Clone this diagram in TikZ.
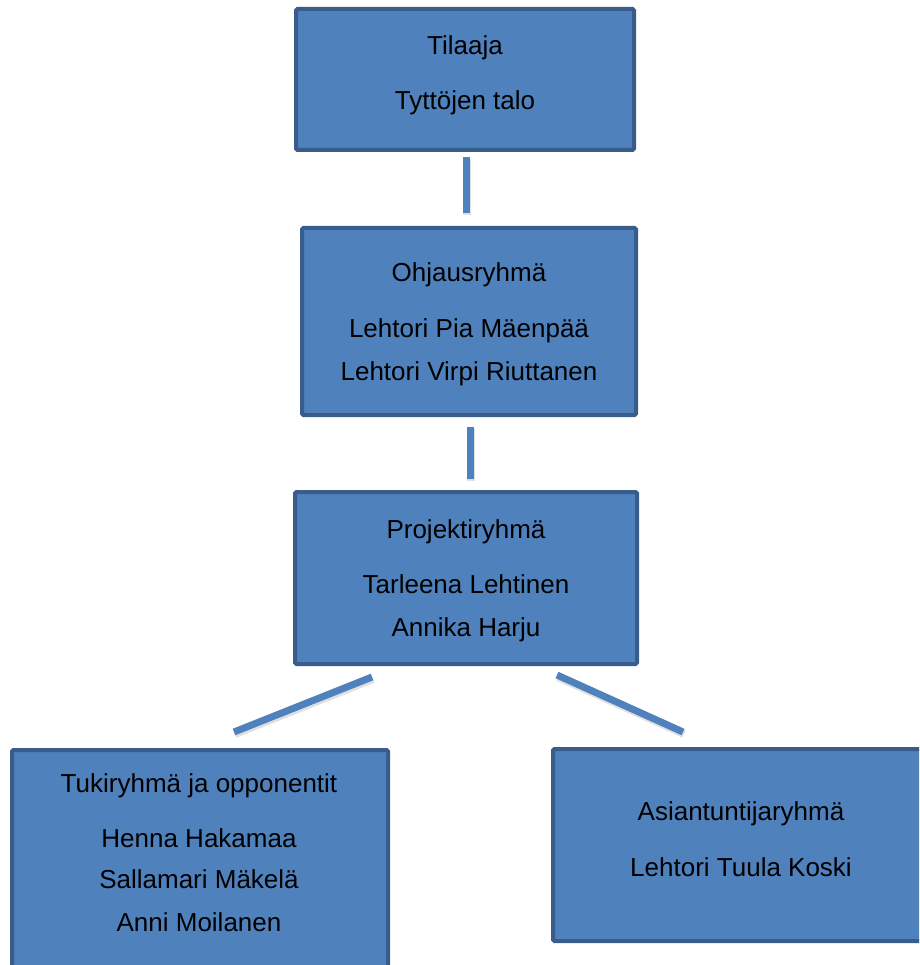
\documentclass[tikz,border=0pt]{standalone}
\usepackage{fontspec}
\setmainfont{Liberation Sans}
\definecolor{boxfill}{HTML}{4F81BD}
\definecolor{boxline}{HTML}{385D8A}
\definecolor{connc}{HTML}{4F81BD}
\begin{document}
\begin{tikzpicture}[x=1pt,y=-1pt,
  box/.style={draw=boxline, fill=boxfill, line width=4pt, rounded corners=1.5pt, inner sep=0pt, outer sep=0pt},
  txt/.style={anchor=base, inner sep=0pt, font=\fontsize{26}{30}\selectfont, text=black},
  conn/.style={draw=connc, line width=7pt, line cap=butt},
  connshadow/.style={draw=black, opacity=0.12, line width=8pt, line cap=butt}]
\useasboundingbox (0,0) rectangle (919,965);
\fill[white] (0,0) rectangle (919,965);
\begin{scope}
\clip (0,0) rectangle (919,965);
% boxes (path = outer edge inset by half line width)
\node[box, minimum width=338pt, minimum height=141pt] (b1) at (465,79.5) {};
\node[box, minimum width=334pt, minimum height=187pt] (b2) at (469,321.5) {};
\node[box, minimum width=342pt, minimum height=172pt] (b3) at (466,578) {};
\node[box, minimum width=376pt, minimum height=260pt] (b4) at (200,880) {};
\node[box, minimum width=396pt, minimum height=192pt] (b5) at (751,845) {};
% connector ends
\coordinate (c1s) at (466,157);
\coordinate (c1e) at (466,213);
\coordinate (c2s) at (470,427);
\coordinate (c2e) at (470,479);
\coordinate (c3s) at (372,677);
\coordinate (c3e) at (234,732);
\coordinate (c4s) at (557,675);
\coordinate (c4e) at (683,732);
\foreach \a/\b in {c1s/c1e,c2s/c2e,c3s/c3e,c4s/c4e}{
  \draw[connshadow] ([xshift=1pt,yshift=-2pt]\a) -- ([xshift=1pt,yshift=-2pt]\b);
  \draw[conn] (\a) -- (\b);
}
% texts
\node[txt] (t1a) at (465,55) {Tilaaja};
\node[txt] (t1b) at (465,110) {Tyttöjen talo};
\node[txt] (t2a) at (469,282) {Ohjausryhmä};
\node[txt] (t2b) at (469,337) {Lehtori Pia Mäenpää};
\node[txt] (t2c) at (469,380) {Lehtori Virpi Riuttanen};
\node[txt] (t3a) at (466,538) {Projektiryhmä};
\node[txt] (t3b) at (466,593) {Tarleena Lehtinen};
\node[txt] (t3c) at (466,636) {Annika Harju};
\node[txt] (t4a) at (199,792) {Tukiryhmä ja opponentit};
\node[txt] (t4b) at (199,847) {Henna Hakamaa};
\node[txt] (t4c) at (199,888) {Sallamari Mäkelä};
\node[txt] (t4d) at (199,931) {Anni Moilanen};
\node[txt] (t5a) at (741,820) {Asiantuntijaryhmä};
\node[txt] (t5b) at (741,876) {Lehtori Tuula Koski};
\end{scope}
\end{tikzpicture}
\end{document}
